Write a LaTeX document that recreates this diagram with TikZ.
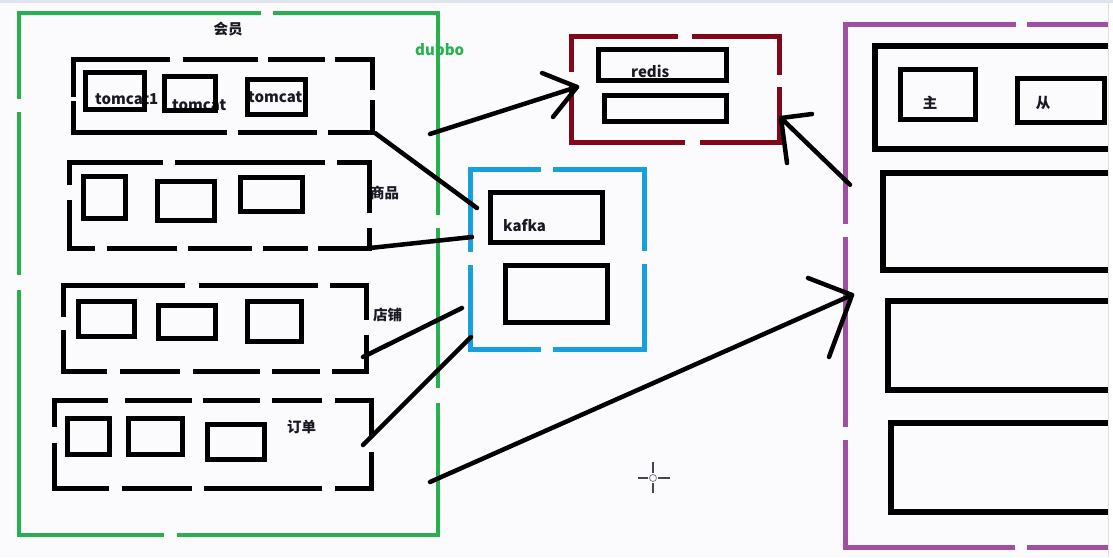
\documentclass[tikz,border=0pt]{standalone}
\usepackage{fontspec}
\newfontfamily\cjk{Noto Sans CJK SC}
\usetikzlibrary{fit,calc}
\definecolor{bgc}{RGB}{251,251,253}
\definecolor{topc}{RGB}{222,227,236}
\definecolor{pgreen}{RGB}{38,176,78}
\definecolor{pblue}{RGB}{24,160,222}
\definecolor{pred}{RGB}{128,8,26}
\definecolor{ppurple}{RGB}{160,80,162}
\definecolor{txtc}{RGB}{25,25,35}
\definecolor{curc}{RGB}{70,70,80}
\begin{document}
\begin{tikzpicture}[x=1pt,y=-1pt]
\tikzset{
  area/.style={draw=none,inner sep=0pt,outer sep=0pt},
  grpline/.style={line width=5pt,draw=black},
  ibox/.style={draw=black,line width=5pt,inner sep=0pt,outer sep=0pt},
  pbox/.style={draw=black,line width=6pt},
  conn/.style={line width=4.5pt,line cap=round,line join=round,draw=black},
  lbl/.style={font=\cjk\bfseries\fontsize{15}{15}\selectfont,inner sep=0pt,text=txtc},
  zh/.style={font=\cjk\bfseries\fontsize{14.5}{14.5}\selectfont,inner sep=0pt,text=txtc},
}
\useasboundingbox (0,0) rectangle (1113,557);
\fill[bgc] (0,0) rectangle (1113,557);
\fill[topc] (0,0) rectangle (1113,3);

% ---------- texts (drawn first, boxes go over them)
\node[zh] (tmember) at (228,29) {会员};
\node[lbl,text=pgreen,anchor=base west] (tdubbo) at (415,55) {dubbo};
\node[lbl,anchor=base west] (ttc1) at (95,104) {tomcat1};
\node[lbl,anchor=base west] (ttc2) at (172,110) {tomcat};
\node[lbl,anchor=base west] (ttc3) at (248,102) {tomcat};
\node[zh,anchor=west] (tgoods) at (370,193) {商品};
\node[zh,anchor=west] (tshop) at (373,315) {店铺};
\node[zh,anchor=west] (torder) at (287,427) {订单};
\node[lbl,anchor=base west] (tredis) at (631,77) {redis};
\node[lbl,anchor=base west] (tkafka) at (503,231) {kafka};
\node[zh] (tmaster) at (930,103) {主};
\node[zh] (tslave) at (1043,103) {从};

% ---------- area nodes
\node[area,fit={(19,13)(438,535)}] (member) {};
\node[area,fit={(73,59)(372,132)}] (g1) {};
\node[area,fit={(69,162)(369,248)}] (g2) {};
\node[area,fit={(63,285)(366,371)}] (g3) {};
\node[area,fit={(54,400)(371,488)}] (g4) {};
\node[area,fit={(571,36)(779,142)}] (redis) {};
\node[area,fit={(470,169.5)(644.5,349.5)}] (kafka) {};
\node[area,fit={(845.5,24.5)(1107,547)}] (db) {};

% ---------- container borders
\draw[pgreen,line width=4.5pt] (19,99) -- (19,13) -- (261,13) (273,13) -- (438,13) -- (438,215)
  (438,228) -- (438,388) (438,403) -- (438,535) -- (177,535) (164,535) -- (19,535) -- (19,290)
  (19,275) -- (19,112);
\draw[grpline] (73,97) -- (73,59) -- (170,59) (183,59) -- (258,59) (268,59) -- (325,59)
  (335,59) -- (372,59) -- (372,90) (372,100) -- (372,132) -- (328,132) (317,132) -- (238,132)
  (227,132) -- (73,132) -- (73,101);
\draw[grpline] (69,185) -- (69,162) -- (163,162) (175,162) -- (325,162) (337,162) -- (369,162)
  -- (369,213) (369,228) -- (369,248) -- (318,248) (308,248) -- (263,248) (252,248) -- (188,248)
  (177,248) -- (107,248) (95,248) -- (69,248) -- (69,200);
\draw[grpline] (63,317) -- (63,285) -- (185,285) (199,285) -- (318,285) (330,285) -- (366,285)
  -- (366,320) (366,335) -- (366,371) -- (332,371) (320,371) -- (272,371) (260,371) -- (193,371)
  (180,371) -- (120,371) (107,371) -- (63,371) -- (63,330);
\draw[grpline] (54,427) -- (54,400) -- (108,400) (125,400) -- (192,400) (203,400) -- (260,400)
  (272,400) -- (322,400) (335,400) -- (371,400) -- (371,437) (371,452) -- (371,488) -- (335,488)
  (322,488) -- (204,488) (192,488) -- (122,488) (109,488) -- (54,488) -- (54,443);
\draw[pred,line width=5pt] (571,72) -- (571,36) -- (678,36) (692,36) -- (779,36) -- (779,75)
  (779,87) -- (779,142) -- (700,142) (685,142) -- (571,142) -- (571,85);
\draw[pblue,line width=5pt] (470,252) -- (470,169.5) -- (541,169.5) (553,169.5) -- (644.5,169.5)
  -- (644.5,251) (644.5,264) -- (644.5,349.5) -- (553,349.5) (541,349.5) -- (470,349.5) -- (470,265);
\draw[ppurple,line width=5pt] (1110,24.5) -- (1027,24.5) (1016,24.5) -- (845.5,24.5) -- (845.5,224)
  (845.5,237) -- (845.5,427) (845.5,440) -- (845.5,547) -- (1015,547) (1027,547) -- (1110,547);

% ---------- inner boxes
\node[ibox,fit={(85,72.5)(144.5,109.5)}] (tc1) {};
\node[ibox,fit={(164.5,76.5)(215.5,110.5)}] (tc2) {};
\node[ibox,fit={(247.5,79.5)(305.5,114.5)}] (tc3) {};
\node[ibox,fit={(83.5,176.5)(125.5,218.5)}] (gd1) {};
\node[ibox,fit={(157.5,181.5)(214.5,220.5)}] (gd2) {};
\node[ibox,fit={(240.5,177.5)(302.5,211.5)}] (gd3) {};
\node[ibox,fit={(78.5,301.5)(134.5,336.5)}] (sh1) {};
\node[ibox,fit={(158.5,305.5)(215.5,338.5)}] (sh2) {};
\node[ibox,fit={(247.5,301.5)(301.5,341.5)}] (sh3) {};
\node[ibox,fit={(67.5,418.5)(109.5,454.5)}] (od1) {};
\node[ibox,fit={(128.5,418.5)(182.5,454.5)}] (od2) {};
\node[ibox,fit={(207.5,424.5)(264.5,459.5)}] (od3) {};
\node[ibox,fit={(598.5,49.5)(726.5,80.5)}] (rd1) {};
\node[ibox,fit={(604.5,95.5)(726.5,121.5)}] (rd2) {};
\node[ibox,fit={(490.5,192.5)(602.5,242.5)}] (kf1) {};
\node[ibox,fit={(505.5,265.5)(607.5,322.5)}] (kf2) {};
\node[ibox,fit={(900.5,69.5)(975.5,119.5)}] (ms) {};
\node[ibox,fit={(1017.5,78.5)(1104.5,122.5)}] (sl) {};
\draw[pbox] (1120,46) -- (875,46) -- (875,148.5) -- (1120,148.5);
\draw[pbox] (1120,173) -- (883,173) -- (883,270) -- (1120,270);
\draw[pbox] (1120,301) -- (888,301) -- (888,390) -- (1120,390);
\draw[pbox] (1120,423) -- (891,423) -- (891,512) -- (1120,512);

% ---------- connectors
\coordinate (k1) at (477,208);
\coordinate (k2) at (472,237);
\coordinate (k3) at (462,308);
\coordinate (k4) at (471,337);
\draw[conn] ([shift={(3,1)}]g1.south east) -- (k1);
\draw[conn] ([shift={(1,0)}]g2.south east) -- (k2);
\draw[conn] ([shift={(-3,29)}]g3.east) -- (k3);
\draw[conn] ([shift={(-8,1)}]g4.east) -- (k4);

\coordinate (rtip) at (577,87);
\draw[conn] ([shift={(-8,-140)}]member.east) -- (rtip);
\draw[conn] ($(rtip)+(-35,-14)$) -- (rtip) -- ($(rtip)+(-24,30)$);

\coordinate (rtip2) at (781,118);
\draw[conn] ([shift={(4.5,-101)}]db.west) -- (rtip2);
\draw[conn] ($(rtip2)+(31,-4)$) -- (rtip2) -- ($(rtip2)+(6,45)$);

\coordinate (ptip) at (852,295);
\draw[conn] ([shift={(-8,208)}]member.east) -- (ptip);
\draw[conn] ($(ptip)+(-44,-17)$) -- (ptip) -- ($(ptip)+(-23,62)$);

% ---------- right edge of the screenshot
\fill[white] (1108,3) rectangle (1113,557);
\draw[black!12,line width=1pt] (1108,3) -- (1108,557);

% ---------- cursor
\coordinate (cur) at (653,478);
\draw[curc,line width=1.8pt] ($(cur)+(-15,0)$) -- ($(cur)+(-5,0)$) ($(cur)+(5,0)$) -- ($(cur)+(17,0)$)
  ($(cur)+(0,-16)$) -- ($(cur)+(0,-5)$) ($(cur)+(0,5)$) -- ($(cur)+(0,15)$);
\draw[curc!70,line width=0.8pt] (cur) circle[radius=3.5];
\end{tikzpicture}
\end{document}
